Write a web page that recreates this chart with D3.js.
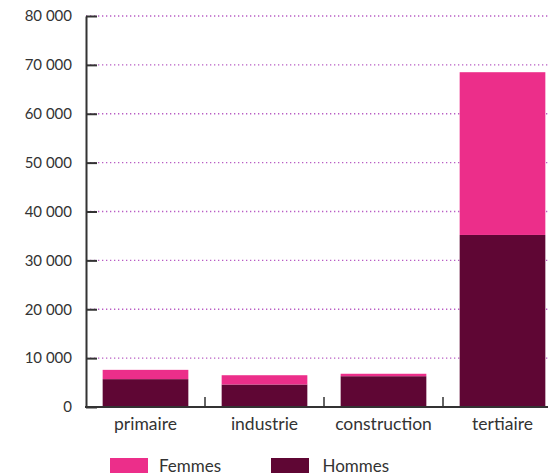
<!DOCTYPE html>
<html><head><meta charset="utf-8">
<script src="https://cdn.jsdelivr.net/npm/d3@7"></script>
<style>body{margin:0;background:#fff;}svg{display:block;}text{font-family:Lato,"Open Sans",sans-serif;fill:#333;}</style>
</head><body>
<svg id="c" width="548" height="474"></svg>
<script>
const categories = ["primaire","industrie","construction","tertiaire"];
const hommes = [5700, 4600, 6300, 35200];
const femmes = [1900, 1900, 500, 33300];
const seriesNames = ["Femmes","Hommes"];
const colors = {Femmes:"#ec2e8a", Hommes:"#5f0634"};
const yTicks = [0,10000,20000,30000,40000,50000,60000,70000,80000];

(function(){
const svg = d3.select("#c");
const mLeft = 86, mBottom = 407, mTop = 16, mRight = 562;
const x = d3.scaleBand().domain(categories).range([mLeft, mRight]).paddingInner(0.28).paddingOuter(0.14);
const y = d3.scaleLinear().domain([0,80000]).range([mBottom, mTop]);
const fmt = d3.formatLocale({decimal:",", thousands:" ", grouping:[3], currency:["","€"]}).format(",");

// gridlines
svg.append("g").selectAll("line").data(yTicks.filter(d=>d>0)).join("line")
  .attr("x1", mLeft).attr("x2", 548).attr("y1", d=>y(d)).attr("y2", d=>y(d))
  .attr("stroke","#b85cc4").attr("stroke-width",1.3).attr("stroke-dasharray","1.3,2.7");

// bars
const data = categories.map((c,i)=>({cat:c, Hommes:hommes[i], Femmes:femmes[i]}));
const stack = d3.stack().keys(["Hommes","Femmes"])(data);
svg.append("g").selectAll("g").data(stack).join("g").attr("fill", d=>colors[d.key])
  .selectAll("rect").data(d=>d).join("rect")
  .attr("x", d=>x(d.data.cat)).attr("width", x.bandwidth())
  .attr("y", d=>y(d[1])).attr("height", d=>y(d[0])-y(d[1]));

// y axis
const ya = svg.append("g").attr("transform",`translate(${mLeft},0)`)
  .call(d3.axisLeft(y).tickValues(yTicks).tickFormat(fmt).tickSizeInner(-11).tickSizeOuter(0).tickPadding(14));
ya.select(".domain").attr("stroke","#333").attr("stroke-width",2);
ya.selectAll(".tick line").attr("stroke","#333").attr("stroke-width",2);
ya.selectAll("text").style("font-size","15px").attr("fill","#333");

// x axis line
svg.append("line").attr("x1",mLeft-1).attr("x2",548).attr("y1",mBottom).attr("y2",mBottom)
  .attr("stroke","#333").attr("stroke-width",2);
// separator ticks
const step = x.step();
svg.append("g").selectAll("line").data(categories.slice(1)).join("line")
  .attr("x1", d=>x(d)-step*0.14).attr("x2", d=>x(d)-step*0.14)
  .attr("y1", mBottom).attr("y2", mBottom-10).attr("stroke","#333").attr("stroke-width",1.5);
// category labels
svg.append("g").selectAll("text").data(categories).join("text")
  .attr("x", d=>x(d)+x.bandwidth()/2).attr("y", 430).attr("text-anchor","middle")
  .style("font-size","17.5px").text(d=>d);

// legend
const legX = [110, 271];
const lg = svg.append("g").selectAll("g").data(seriesNames).join("g")
  .attr("transform",(d,i)=>`translate(${legX[i]},458)`);
lg.append("rect").attr("width",38).attr("height",15).attr("fill",d=>colors[d]);
lg.append("text").attr("x",(d,i)=>i===0?49:51.5).attr("y",14).style("font-size","17px").text(d=>d);
})();
</script>
</body></html>
